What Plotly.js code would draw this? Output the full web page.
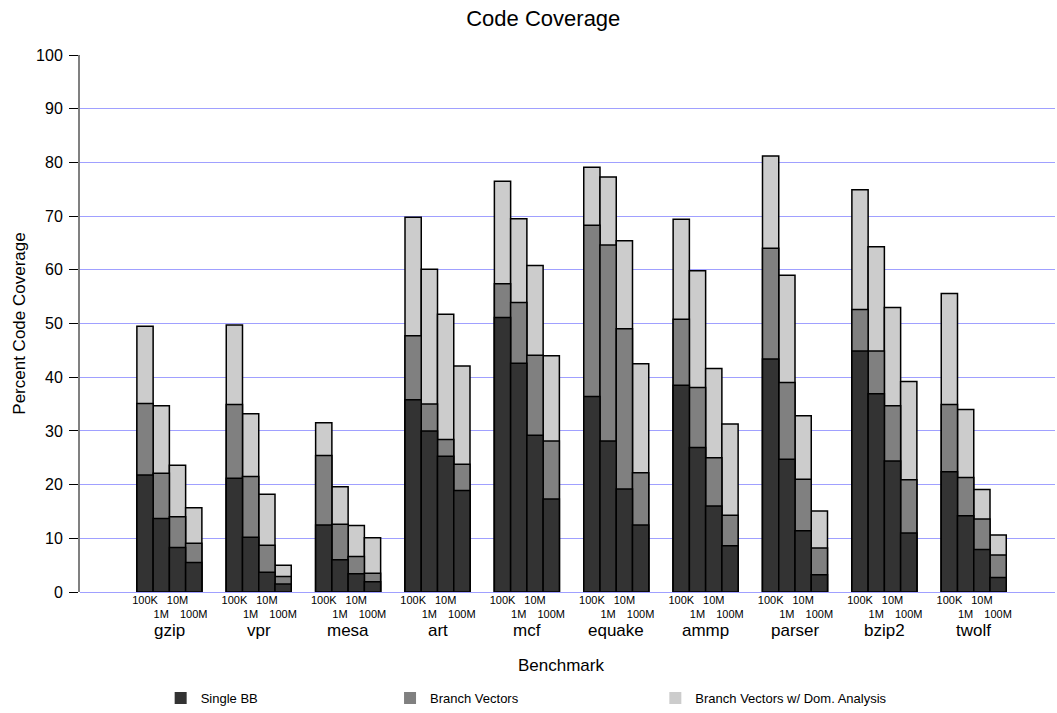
<!DOCTYPE html>
<html>
<head>
<meta charset="utf-8">
<script src="https://cdn.plot.ly/plotly-3.0.1.min.js"></script>
<style>
  html, body { margin: 0; padding: 0; background: #fff; }
  #chart { width: 1057px; height: 713px; }
</style>
</head>
<body>
<div id="chart"></div>
<script>
// Benchmarks and the four sampling intervals shown under each group
const benchmarks = ['gzip', 'vpr', 'mesa', 'art', 'mcf', 'equake', 'ammp', 'parser', 'bzip2', 'twolf'];
const intervals = ['100K', '1M', '10M', '100M'];

// Coverage (%) per benchmark, one value per interval (100K, 1M, 10M, 100M)
const singleBB = [
  [21.8, 13.7, 8.3, 5.5],
  [21.2, 10.2, 3.7, 1.5],
  [12.5, 6.0, 3.4, 1.9],
  [35.8, 30.0, 25.3, 18.9],
  [51.1, 42.6, 29.2, 17.3],
  [36.4, 28.1, 19.2, 12.5],
  [38.5, 26.9, 16.0, 8.6],
  [43.4, 24.7, 11.4, 3.2],
  [44.9, 36.9, 24.4, 11.0],
  [22.4, 14.2, 7.9, 2.7]
];
const branchVectors = [
  [35.1, 22.1, 14.0, 9.1],
  [34.9, 21.5, 8.7, 2.9],
  [25.4, 12.6, 6.6, 3.5],
  [47.7, 35.0, 28.4, 23.8],
  [57.4, 53.9, 44.1, 28.1],
  [68.3, 64.6, 49.0, 22.2],
  [50.8, 38.1, 25.0, 14.3],
  [64.0, 39.0, 21.0, 8.2],
  [52.6, 44.9, 34.7, 20.9],
  [34.9, 21.3, 13.6, 6.9]
];
const domAnalysis = [
  [49.5, 34.7, 23.6, 15.7],
  [49.7, 33.2, 18.2, 5.0],
  [31.5, 19.6, 12.4, 10.1],
  [69.8, 60.1, 51.7, 42.1],
  [76.5, 69.5, 60.8, 44.0],
  [79.1, 77.3, 65.4, 42.5],
  [69.4, 59.8, 41.6, 31.3],
  [81.2, 59.0, 32.8, 15.1],
  [74.9, 64.3, 53.0, 39.2],
  [55.6, 34.0, 19.1, 10.6]
];

const seriesNames = ['Single BB', 'Branch Vectors', 'Branch Vectors w/ Dom. Analysis'];
const seriesColors = ['#333333', '#808080', '#cccccc'];

// Horizontal layout in bar-width units: each group holds 4 bars, groups repeat every 5.5 units
const GROUP_START = 3.5;
const GROUP_STEP = 5.5;
const barX = [];
benchmarks.forEach((b, i) => {
  intervals.forEach((iv, j) => barX.push(GROUP_START + GROUP_STEP * i + j + 0.5));
});
const groupCenters = benchmarks.map((b, i) => GROUP_START + GROUP_STEP * i + 2);
// Interval labels alternate between two rows
const tickText = [];
benchmarks.forEach(() => intervals.forEach((iv, j) => tickText.push(j % 2 === 0 ? iv : '<br>' + iv)));

const FONT = 'Liberation Sans, Arial, sans-serif';

function bars(values, k) {
  return {
    type: 'bar',
    name: seriesNames[k],
    x: barX,
    y: values.flat(),
    width: 1,
    marker: { color: seriesColors[k], line: { color: '#000', width: 1.5 } },
    showlegend: false,
    hoverinfo: 'x+y+name'
  };
}

// Legend keys: plain filled squares (no outline), one legend box per series
function key(k, legendId) {
  return {
    type: 'scatter',
    mode: 'markers',
    name: seriesNames[k],
    x: [null], y: [null],
    marker: { symbol: 'square', size: 12, color: seriesColors[k], line: { width: 0 } },
    legend: legendId,
    showlegend: true,
    hoverinfo: 'skip'
  };
}

// Cumulative coverage: tallest series drawn first so the shorter ones sit in front
const data = [
  bars(domAnalysis, 2),
  bars(branchVectors, 1),
  bars(singleBB, 0),
  key(0, 'legend'),
  key(1, 'legend2'),
  key(2, 'legend3')
];

const legendBase = {
  orientation: 'h',
  xref: 'container', yref: 'container',
  yanchor: 'middle', y: 0.021,
  font: { family: FONT, size: 13, color: '#000' },
  bgcolor: 'rgba(0,0,0,0)'
};

const layout = {
  width: 1057,
  height: 713,
  margin: { l: 80, r: 2, t: 55, b: 121 },
  paper_bgcolor: '#fff',
  plot_bgcolor: '#fff',
  font: { family: FONT, color: '#000' },
  barmode: 'overlay',
  bargap: 0,
  title: {
    text: 'Code Coverage',
    font: { family: FONT, size: 22, color: '#000' },
    x: 0.514, xanchor: 'center',
    y: 0.975, yanchor: 'middle'
  },
  xaxis: {
    range: [0, 60],
    tickmode: 'array',
    tickvals: barX,
    ticktext: tickText,
    tickfont: { family: FONT, size: 11, color: '#000' },
    showgrid: false,
    showline: false,
    zeroline: false,
    ticks: '',
    tickangle: 0,
    fixedrange: true
  },
  yaxis: {
    range: [0, 100],
    dtick: 10,
    tick0: 0,
    showgrid: true,
    gridcolor: '#a0a0ff',
    gridwidth: 1,
    zeroline: true,
    zerolinecolor: '#a0a0ff',
    zerolinewidth: 1,
    showline: true,
    linecolor: '#808080',
    linewidth: 2,
    ticks: 'outside',
    ticklen: 9,
    tickcolor: '#000',
    tickwidth: 1,
    ticklabelstandoff: 3,
    tickfont: { family: FONT, size: 16, color: '#000' },
    title: { text: 'Percent Code Coverage', font: { family: FONT, size: 17, color: '#000' }, standoff: 6 },
    fixedrange: true
  },
  showlegend: true,
  legend: Object.assign({}, legendBase, { x: 0.152 }),
  legend2: Object.assign({}, legendBase, { x: 0.369 }),
  legend3: Object.assign({}, legendBase, { x: 0.620 }),
  annotations: benchmarks.map((b, i) => ({
    text: b,
    x: groupCenters[i],
    xref: 'x',
    y: -0.0726,
    yref: 'paper',
    yanchor: 'middle',
    showarrow: false,
    font: { family: FONT, size: 17, color: '#000' }
  })).concat([{
    text: 'Benchmark',
    x: 0.493,
    xref: 'paper',
    y: -0.136,
    yref: 'paper',
    yanchor: 'middle',
    showarrow: false,
    font: { family: FONT, size: 17, color: '#000' }
  }])
};

Plotly.newPlot('chart', data, layout, { displayModeBar: false, staticPlot: true });
</script>
</body>
</html>
